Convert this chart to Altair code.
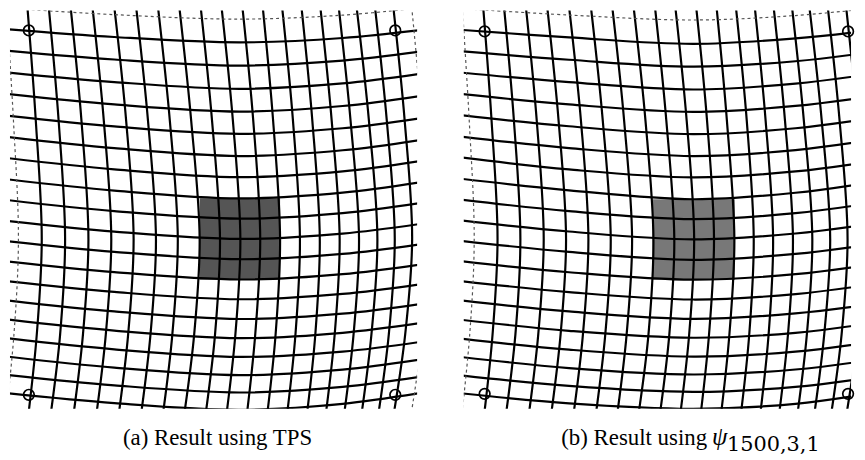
import altair as alt
import pandas as pd

# ---------------- Panel (a): Result using TPS ----------------
# vertical grid lines (index -1..19): x read at these y levels
A_V_Y = [5, 120, 239, 335, 412]
A_VX_5 = [6.5, 27.5, 49, 71, 93, 115, 137, 159, 180.5, 202, 223, 244, 264.5, 284, 303.5, 322.5, 341, 359, 377.5, 396, 414.5]
A_VX_120 = [13.5, 36, 59, 82, 104.5, 127, 149, 171, 192.5, 213.5, 234.5, 255, 275, 295, 314.5, 334, 353, 371.5, 389.5, 407.5, 425]
A_VX_239 = [18.5, 42, 65.5, 89, 112, 134.5, 157, 179, 201, 221.5, 242, 262, 282, 302, 322, 342, 361.5, 380, 397.5, 415, 432.5]
A_VX_335 = [14, 37, 60.5, 83.5, 106.5, 129, 151.5, 173.5, 195.5, 216.5, 237, 257, 277.5, 297.5, 317.5, 337, 356, 374, 391.5, 408, 425.5]
A_VX_412 = [6.5, 29, 51.5, 74.5, 97.5, 120, 142.5, 164.5, 186, 207.5, 228.5, 249, 269.5, 289.5, 309.5, 328.5, 347, 364.5, 381.5, 397, 414.5]
# horizontal grid lines (index -1..19): y read at these x levels
A_H_X = [8, 115, 241, 345, 423]
A_HY_8 = [6.6, 27.8, 49.5, 71.3, 93.1, 115, 136.3, 157.6, 179, 199.9, 220.9, 241.3, 261.7, 281.6, 300.9, 320.2, 339.1, 357.5, 376, 394.5, 413]
A_HY_115 = [13.1, 35.6, 58.3, 81, 103.5, 125.7, 147.6, 168.9, 190.3, 211, 231.6, 252, 272.4, 292.3, 312, 331.3, 350.2, 368.6, 386.4, 404.3, 422.1]
A_HY_241 = [17.6, 41, 64.4, 87.8, 110.7, 133.1, 155.5, 176.8, 198.2, 218.6, 239, 259.4, 279.8, 299.7, 319.6, 338.9, 357.8, 376.2, 393.6, 411, 428.4]
A_HY_345 = [13.6, 36.6, 59.4, 82.4, 105.1, 127.5, 149.7, 171, 192.4, 213, 233.6, 254, 274.4, 294.3, 314.2, 333.5, 352.4, 370.6, 388, 405, 422.4]
A_HY_423 = [6.4, 28.7, 50.4, 72.7, 95, 117.4, 139.3, 160.6, 182, 202.9, 223.9, 244.3, 264.7, 284.6, 304.5, 323.8, 342.7, 360.5, 377.9, 394.2, 411.6]
A_SQUARE = [201, 282, 198, 280]          # x0, x1, y0, y1 of shaded block
A_MARK_X = [29, 398, 29, 398]
A_MARK_Y = [29, 29, 396, 396]

# ---------------- Panel (b): Result using psi ----------------
B_V_Y = [5, 120, 239, 335, 412]
B_VX_5 = [465.5, 486.5, 507.5, 529.5, 551, 573, 595, 616.5, 638, 659.5, 680, 701, 721.5, 741, 760, 779, 797.5, 815, 833.5, 852, 870.5]
B_VX_120 = [472.5, 495, 517.5, 540.5, 562.5, 585, 607, 628.5, 650, 671, 691.5, 712, 732, 752, 771, 790.5, 809.5, 827.5, 845.5, 863.5, 881]
B_VX_239 = [477.5, 501, 524, 547.5, 570, 592.5, 615, 636.5, 658, 679, 699, 719, 739.5, 759, 778.5, 798.5, 818, 836, 853.5, 871, 888.5]
B_VX_335 = [473, 496, 519, 542, 564.5, 587, 609.5, 631, 653, 674, 694, 714, 734.5, 754.5, 774, 793.5, 812.5, 830, 847.5, 864, 881.5]
B_VX_412 = [465.5, 488, 510, 533, 555.5, 578, 600.5, 622, 643.5, 665, 685.5, 706, 726.5, 746.5, 766, 785, 803.5, 820.5, 837.5, 853, 870.5]
B_H_X = [465, 573, 698, 801, 880]
B_HY_465 = [7, 28.5, 50, 71.5, 93, 114.5, 136, 157, 178.5, 199.5, 220.5, 241, 261.5, 281.5, 301, 320.5, 339.5, 358, 376.5, 394.5, 413]
B_HY_573 = [13.5, 36, 58.5, 81, 103.5, 125.5, 147.5, 169, 190, 211, 231.5, 252, 272.5, 292.5, 312, 331.5, 350.5, 369, 387, 404.5, 422.5]
B_HY_698 = [18.5, 42.5, 65.5, 88.5, 111, 133.5, 155.5, 177, 199, 219, 239.5, 260, 280, 300, 319.5, 338.5, 357.5, 375.5, 393, 410, 427]
B_HY_801 = [14, 37, 60, 82.5, 105, 127.5, 149.5, 171, 192.5, 213, 233.5, 254, 274.5, 294.5, 314, 333.5, 352.5, 370.5, 388, 405, 422]
B_HY_880 = [6.5, 28.5, 50.5, 72.5, 95, 117, 139, 160.5, 181.5, 202.5, 223.5, 244, 264.5, 284.5, 304.5, 323.5, 342.5, 360.5, 378, 394, 411.5]
B_SQUARE = [657, 740, 199, 280]
B_MARK_X = [488, 854, 488, 854]
B_MARK_Y = [30, 30, 395, 395]

CAPTION_A = "(a) Result using TPS"
CAPTION_B = "(b) Result using"
CAPTION_B_SYM = "ψ"
CAPTION_B_SUB = "1500,3,1"


def grid_table(v_levels, vx_lists, h_levels, hy_lists):
    rows = []
    n = len(vx_lists[0])
    for k in range(n):
        outer = k in (0, n - 1)
        for o, (yl, xs) in enumerate(zip(v_levels, vx_lists)):
            rows.append(dict(line=f"v{k}", outer=outer, order=o, x=xs[k], y=yl))
        for o, (xl, ys) in enumerate(zip(h_levels, hy_lists)):
            rows.append(dict(line=f"h{k}", outer=outer, order=o, x=xl, y=ys[k]))
    return pd.DataFrame(rows)


def panel(df, square, mx, my, xdom, ydom, fill, texts):
    xs = alt.Scale(domain=xdom, nice=False, zero=False)
    ys = alt.Scale(domain=ydom, nice=False, zero=False, reverse=True)
    sq = pd.DataFrame([dict(x0=square[0], x1=square[1], y0=square[2], y1=square[3])])
    rect = alt.Chart(sq).mark_rect(color=fill, clip=True).encode(
        x=alt.X("x0:Q", scale=xs, axis=None), x2="x1:Q",
        y=alt.Y("y0:Q", scale=ys, axis=None), y2="y1:Q")
    enc = dict(x=alt.X("x:Q", scale=xs, axis=None),
               y=alt.Y("y:Q", scale=ys, axis=None),
               detail="line:N", order="order:Q")
    inner = alt.Chart(df[~df.outer]).mark_line(
        color="black", strokeWidth=2.2, interpolate="catmull-rom", clip=True).encode(**enc)
    outer = alt.Chart(df[df.outer]).mark_line(
        color="#555", strokeWidth=1.2, strokeDash=[3, 3],
        interpolate="catmull-rom", clip=True).encode(**enc)
    md = pd.DataFrame(dict(x=mx, y=my))
    marks = alt.Chart(md).mark_point(
        shape="circle", filled=False, size=115, strokeWidth=1.7,
        color="black", opacity=1).encode(
        x=alt.X("x:Q", scale=xs, axis=None), y=alt.Y("y:Q", scale=ys, axis=None))
    layers = [rect, inner, outer, marks]
    for t in texts:
        td = pd.DataFrame([dict(x=t["x"], y=t["y"], text=t["text"])])
        layers.append(alt.Chart(td).mark_text(
            font=t.get("font", "Liberation Serif"), fontSize=t["size"], align=t["align"],
            baseline="alphabetic", color="black", fontStyle=t.get("style", "normal")
        ).encode(x=alt.X("x:Q", scale=xs, axis=None),
                 y=alt.Y("y:Q", scale=ys, axis=None), text="text:N"))
    return alt.layer(*layers).properties(
        width=xdom[1] - xdom[0], height=ydom[1] - ydom[0])


dfa = grid_table(A_V_Y, [A_VX_5, A_VX_120, A_VX_239, A_VX_335, A_VX_412],
                 A_H_X, [A_HY_8, A_HY_115, A_HY_241, A_HY_345, A_HY_423])
dfb = grid_table(B_V_Y, [B_VX_5, B_VX_120, B_VX_239, B_VX_335, B_VX_412],
                 B_H_X, [B_HY_465, B_HY_573, B_HY_698, B_HY_801, B_HY_880])

pa = panel(dfa, A_SQUARE, A_MARK_X, A_MARK_Y, [10, 420], [9, 410], "#555555",
           [dict(x=219, y=447, text=CAPTION_A, size=23, align="center")])
pb = panel(dfb, B_SQUARE, B_MARK_X, B_MARK_Y, [467, 857], [9, 410], "#787878",
           [dict(x=712, y=447, text=CAPTION_B, size=23, align="right"),
            dict(x=717, y=447, text=CAPTION_B_SYM, size=25, align="left", style="italic"),
            dict(x=732, y=453, text=CAPTION_B_SUB, size=21, align="left",
                 font="DejaVu Serif")])

chart = alt.hconcat(pa, pb, spacing=47, bounds="flush").properties(
    padding={"left": 2, "top": 1, "right": 0, "bottom": 0}
).configure_view(stroke=None)

chart.save("out.html", embed_options={"renderer": "svg", "actions": False})
